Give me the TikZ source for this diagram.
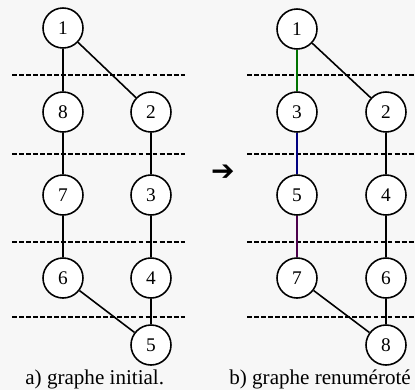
\documentclass[tikz,border=0pt]{standalone}
\usepackage{fontspec}
\setmainfont{Liberation Serif}
\newfontfamily\symfont{DejaVu Sans}
\usepackage{tikz}
\usetikzlibrary{arrows.meta, calc, positioning}

\begin{document}
\begin{tikzpicture}[
  x=0.02cm, y=-0.02cm,
  font=\fontsize{11}{13}\selectfont,
  vtx/.style={draw, circle, line width=0.9pt, minimum size=0.8cm, inner sep=0pt, fill=white},
  edg/.style={line width=0.9pt, draw=black},
  cut/.style={line width=1.1pt, dash pattern=on 2.8pt off 1.2pt},
  capt/.style={anchor=base west, font=\fontsize{12}{14}\selectfont, inner sep=0pt},
]

% ============ FRAME ============
\useasboundingbox[fill=black!3] (0,0) rectangle (415,390);

% ============ CUTS ============
\foreach \yy in {75,154,242,317} {
  \draw[cut] (12,\yy) -- (185,\yy);
  \draw[cut] (247,\yy) -- (420,\yy);
}

% ============ NODES ============

% a) initial graph
\node[vtx] (a1) at (63, 28)  {1};
\node[vtx] (a8) at (63,112)  {8};
\node[vtx] (a2) at (151,112) {2};
\node[vtx] (a7) at (63,195)  {7};
\node[vtx] (a3) at (151,195) {3};
\node[vtx] (a6) at (63,278)  {6};
\node[vtx] (a4) at (151,278) {4};
\node[vtx] (a5) at (151,345) {5};

% b) renumbered graph
\node[vtx] (b1) at (297, 29)  {1};
\node[vtx] (b3) at (297,112)  {3};
\node[vtx] (b2) at (386,112)  {2};
\node[vtx] (b5) at (297,195)  {5};
\node[vtx] (b4) at (386,195)  {4};
\node[vtx] (b7) at (297,278)  {7};
\node[vtx] (b6) at (386,278)  {6};
\node[vtx] (b8) at (386,345)  {8};

% arrow between the two
\node[font=\symfont\fontsize{16}{16}\selectfont] (arw) at (223,173) {➔};

% ============ EDGES ============
\draw[edg] (a1) -- (a8);
\draw[edg] (a1) -- (a2);
\draw[edg] (a8) -- (a7);
\draw[edg] (a7) -- (a6);
\draw[edg] (a6) -- (a5);
\draw[edg] (a2) -- (a3);
\draw[edg] (a3) -- (a4);
\draw[edg] (a4) -- (a5);

\draw[edg, draw=green!45!black] (b1) -- (b3);
\draw[edg] (b1) -- (b2);
\draw[edg, draw=blue!50!black] (b3) -- (b5);
\draw[edg, draw=violet!60!black] (b5) -- (b7);
\draw[edg] (b7) -- (b8);
\draw[edg] (b2) -- (b4);
\draw[edg] (b4) -- (b6);
\draw[edg] (b6) -- (b8);

% ============ CAPTIONS ============
\node[capt] (capa) at (25,384)  {a) graphe initial.};
\node[capt] (capb) at (229,384) {b) graphe renuméroté};

\end{tikzpicture}
\end{document}
